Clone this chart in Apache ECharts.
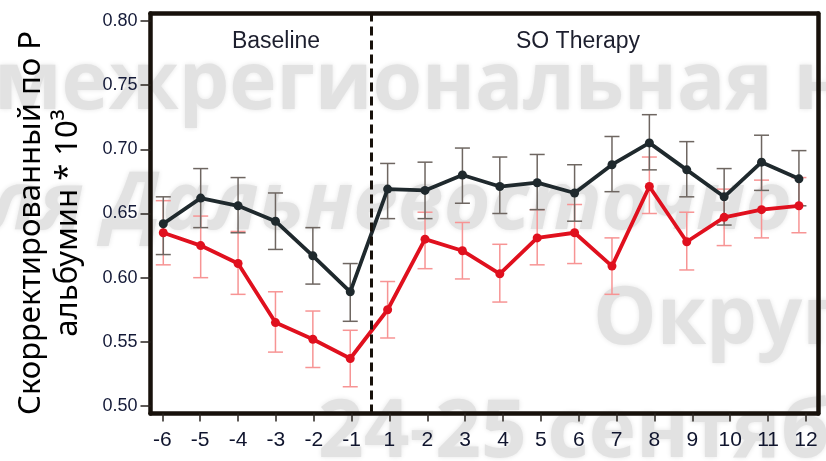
<!DOCTYPE html>
<html>
<head>
<meta charset="utf-8">
<script src="https://cdn.jsdelivr.net/npm/echarts@6/dist/echarts.min.js"></script>
<style>
  html, body { margin: 0; padding: 0; background: #fff; }
  #chart { width: 826px; height: 461px; }
</style>
</head>
<body>
<div id="chart"></div>
<script>
// тики оси X (месяцы до / после начала терапии)
const xLabels = ['-6', '-5', '-4', '-3', '-2', '-1', '1', '2', '3', '4', '5', '6', '7', '8', '9', '10', '11', '12'];
const yTicks = [0.50, 0.55, 0.60, 0.65, 0.70, 0.75, 0.80];

// тёмная линия
const darkMean = [0.642, 0.662, 0.656, 0.644, 0.617, 0.589, 0.669, 0.668, 0.680, 0.671, 0.674, 0.666, 0.688, 0.705, 0.684, 0.663, 0.690, 0.677];
const darkHigh = [0.663, 0.685, 0.678, 0.666, 0.639, 0.611, 0.689, 0.690, 0.701, 0.694, 0.696, 0.688, 0.710, 0.727, 0.706, 0.685, 0.711, 0.699];
const darkLow  = [0.618, 0.639, 0.635, 0.622, 0.595, 0.566, 0.646, 0.646, 0.658, 0.650, 0.653, 0.644, 0.667, 0.684, 0.663, 0.641, 0.668, 0.656];

// красная линия
const redMean = [0.635, 0.625, 0.611, 0.565, 0.552, 0.537, 0.575, 0.630, 0.621, 0.603, 0.631, 0.635, 0.609, 0.671, 0.628, 0.647, 0.653, 0.656];
const redHigh = [0.660, 0.648, 0.636, 0.589, 0.574, 0.559, 0.597, 0.651, 0.643, 0.626, 0.653, 0.657, 0.631, 0.694, 0.651, 0.669, 0.676, 0.678];
const redLow  = [0.610, 0.600, 0.587, 0.542, 0.530, 0.515, 0.553, 0.607, 0.599, 0.581, 0.610, 0.611, 0.587, 0.650, 0.606, 0.625, 0.631, 0.635];

const therapyStart = 5.55; // между -1 и 1

const frame = { color: '#17110b', width: 4.5 };

let myChart = echarts.init(document.getElementById('chart'));

function errorBars(color) {
  return function (params, api) {
    let x = api.value(0);
    let lo = api.coord([x, api.value(1)]);
    let hi = api.coord([x, api.value(2)]);
    let w = 7.5;
    let style = { stroke: color, lineWidth: 1.5 };
    return {
      type: 'group',
      children: [
        { type: 'line', shape: { x1: lo[0], y1: lo[1], x2: hi[0], y2: hi[1] }, style: style },
        { type: 'line', shape: { x1: lo[0] - w, y1: lo[1], x2: lo[0] + w, y2: lo[1] }, style: style },
        { type: 'line', shape: { x1: hi[0] - w, y1: hi[1], x2: hi[0] + w, y2: hi[1] }, style: style }
      ]
    };
  };
}

function watermark(text, x, y, italic) {
  return {
    type: 'text',
    z: -10,
    x: x,
    y: y,
    style: {
      text: text,
      fontSize: 80,
      fontWeight: 'bold',
      fontStyle: italic ? 'italic' : 'normal',
      fontFamily: 'Open Sans',
      fill: '#e2e2e2',
      textShadowColor: 'rgba(0,0,0,0.10)',
      textShadowBlur: 5,
      align: 'left',
      verticalAlign: 'middle'
    }
  };
}

let option = {
  animation: false,
  backgroundColor: '#fff',
  grid: {
    left: 150.5,
    right: 8,
    top: 13.5,
    bottom: 47.5,
    outerBoundsMode: 'none'
  },
  xAxis: [
    {
      // ось данных, верхняя рамка
      type: 'value',
      min: -0.342,
      max: 17.51,
      position: 'top',
      axisLine: { show: true, onZero: false, lineStyle: frame },
      axisTick: { show: false },
      axisLabel: { show: false },
      splitLine: { show: false }
    },
    {
      // подписи и риски, нижняя рамка
      type: 'value',
      min: -0.312,
      max: 17.32,
      position: 'bottom',
      axisLine: { show: true, onZero: false, lineStyle: frame },
      splitLine: { show: false },
      axisTick: {
        show: true,
        length: 8,
        customValues: xLabels.map((_, i) => i),
        lineStyle: { color: '#2a2520', width: 1.5 }
      },
      axisLabel: {
        customValues: xLabels.map((_, i) => i),
        formatter: v => xLabels[Math.round(v)],
        fontSize: 21,
        fontFamily: 'Liberation Sans',
        color: '#10152e',
        margin: 16
      }
    }
  ],
  yAxis: [
    {
      type: 'value',
      min: 0.49416,
      max: 0.80584,
      position: 'left',
      axisLine: { show: true, onZero: false, lineStyle: frame },
      splitLine: { show: false },
      axisTick: {
        show: true,
        length: 10,
        customValues: yTicks,
        lineStyle: { color: '#2a2520', width: 1.5 }
      },
      axisLabel: {
        customValues: yTicks,
        formatter: v => v.toFixed(2),
        fontSize: 18,
        fontFamily: 'Liberation Sans',
        color: '#141a38',
        margin: 13
      }
    },
    {
      // правая рамка
      type: 'value',
      min: 0.49416,
      max: 0.80584,
      position: 'right',
      axisLine: { show: true, onZero: false, lineStyle: frame },
      axisTick: { show: false },
      axisLabel: { show: false },
      splitLine: { show: false }
    }
  ],
  graphic: [
    watermark('межрегиональная н', -6, 86, false),
    watermark('ля Дальневосточно', -12, 206, true),
    watermark('Округ', 593, 321, false),
    watermark('24-25 сентяб', 318, 434, false),
    {
      type: 'text',
      x: 276,
      y: 42,
      style: { text: 'Baseline', fontSize: 23, fontFamily: 'Liberation Sans', fill: '#1d1f2e', align: 'center', verticalAlign: 'middle' }
    },
    {
      type: 'text',
      x: 578,
      y: 42,
      style: { text: 'SO Therapy', fontSize: 23, fontFamily: 'Liberation Sans', fill: '#1d1f2e', align: 'center', verticalAlign: 'middle' }
    },
    {
      type: 'text',
      x: 50,
      y: 223,
      rotation: Math.PI / 2,
      style: {
        text: 'Скорректированный по P\nальбумин * 10³',
        fontSize: 31,
        lineHeight: 37,
        fontFamily: 'Noto Sans',
        fill: '#000',
        align: 'center',
        verticalAlign: 'middle'
      }
    }
  ],
  series: [
    {
      type: 'custom',
      xAxisIndex: 0,
      renderItem: errorBars('#f79494'),
      encode: { x: 0, y: [1, 2] },
      data: redMean.map((_, i) => [i, redLow[i], redHigh[i]]),
      z: 2
    },
    {
      type: 'custom',
      xAxisIndex: 0,
      renderItem: errorBars('#6e6661'),
      encode: { x: 0, y: [1, 2] },
      data: darkMean.map((_, i) => [i, darkLow[i], darkHigh[i]]),
      z: 2
    },
    {
      type: 'line',
      xAxisIndex: 0,
      data: redMean.map((v, i) => [i, v]),
      symbol: 'circle',
      symbolSize: 9,
      itemStyle: { color: '#e0101e' },
      lineStyle: { color: '#e0101e', width: 3.8 },
      z: 3
    },
    {
      type: 'line',
      xAxisIndex: 0,
      data: darkMean.map((v, i) => [i, v]),
      symbol: 'circle',
      symbolSize: 9,
      itemStyle: { color: '#1f292d' },
      lineStyle: { color: '#1f292d', width: 3.8 },
      z: 4,
      markLine: {
        silent: true,
        symbol: 'none',
        label: { show: false },
        lineStyle: { color: '#17110b', width: 3, type: [9, 5] },
        data: [{ xAxis: therapyStart }]
      }
    }
  ]
};
myChart.setOption(option);
</script>
</body>
</html>
